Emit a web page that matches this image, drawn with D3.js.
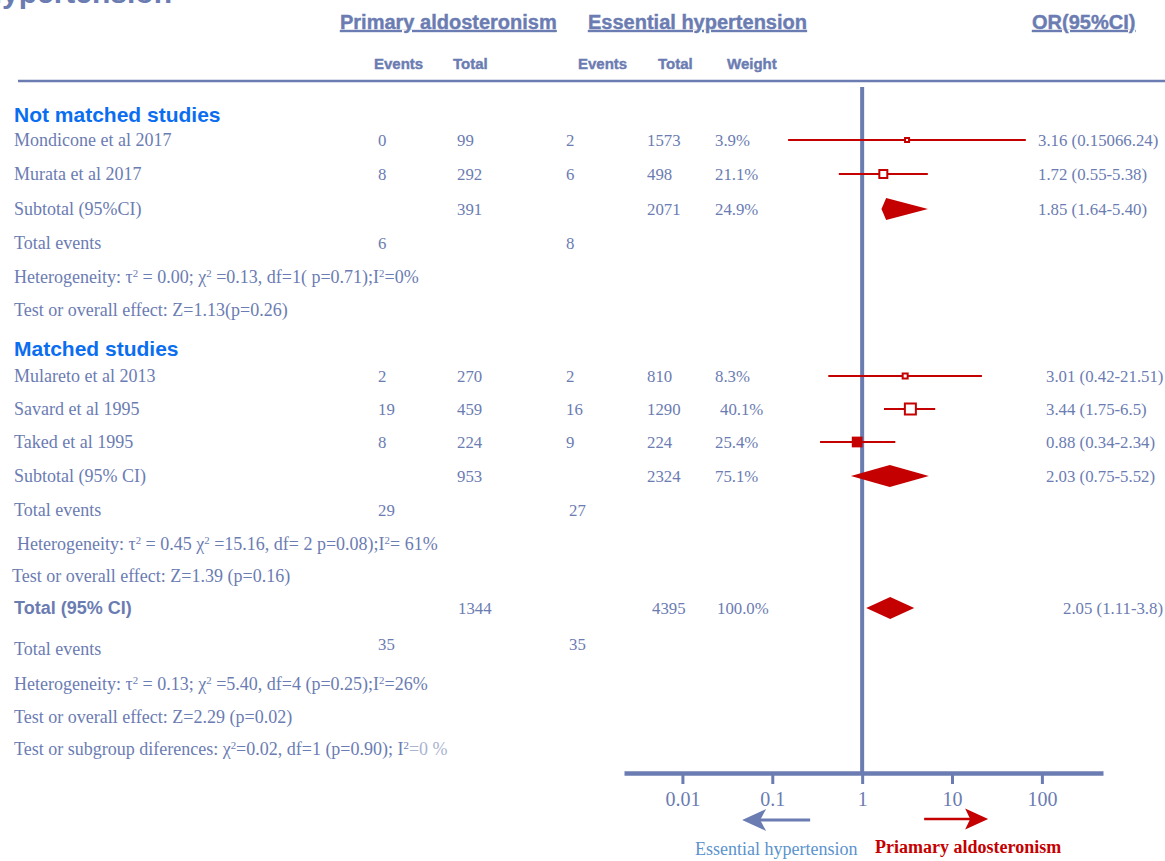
<!DOCTYPE html>
<html>
<head>
<meta charset="utf-8">
<script src="https://cdn.jsdelivr.net/npm/d3@7"></script>
<style>
  html, body { margin: 0; padding: 0; background: #fff; }
  svg { display: block; }
</style>
</head>
<body>
<svg id="chart" width="1165" height="861"></svg>
<script>
// ---- Study-level data ----
const studyNames  = ["Mondicone et al 2017", "Murata et al 2017", "Mulareto et al 2013", "Savard et al 1995", "Taked et al 1995"];
const studyGroup  = [0, 0, 1, 1, 1];
const paEvents    = [0, 8, 2, 19, 8];
const paTotals    = [99, 292, 270, 459, 224];
const ehEvents    = [2, 6, 2, 16, 9];
const ehTotals    = [1573, 498, 810, 1290, 224];
const weights     = [3.9, 21.1, 8.3, 40.1, 25.4];
const oddsRatios  = [3.16, 1.72, 3.01, 3.44, 0.88];
const ciLower     = [0.15, 0.55, 0.42, 1.75, 0.34];
const ciUpper     = [66.24, 5.38, 21.51, 6.5, 2.34];
const orLabels    = ["3.16 (0.15066.24)", "1.72 (0.55-5.38)", "3.01 (0.42-21.51)", "3.44 (1.75-6.5)", "0.88 (0.34-2.34)"];

// ---- Pooled estimates (subgroup 1, subgroup 2, overall) ----
const pooledNames   = ["Subtotal (95%CI)", "Subtotal (95% CI)", "Total (95% CI)"];
const pooledPaTotal = [391, 953, 1344];
const pooledEhTotal = [2071, 2324, 4395];
const pooledWeight  = [24.9, 75.1, 100.0];
const pooledOR      = [1.85, 2.03, 2.05];
const pooledLower   = [1.64, 0.75, 1.11];
const pooledUpper   = [5.40, 5.52, 3.8];
const pooledLabels  = ["1.85 (1.64-5.40)", "2.03 (0.75-5.52)", "2.05 (1.11-3.8)"];
const pooledPaEvents = [6, 29, 35];
const pooledEhEvents = [8, 27, 35];

// ---- Statistics text ("^" marks a superscript 2) ----
const heterogeneityText = [
  "Heterogeneity: τ^ = 0.00; χ^ =0.13, df=1( p=0.71);I^=0%",
  "Heterogeneity: τ^ = 0.45 χ^ =15.16, df= 2 p=0.08);I^= 61%",
  "Heterogeneity: τ^ = 0.13; χ^ =5.40, df=4 (p=0.25);I^=26%"
];
const overallEffectText = [
  "Test or overall effect: Z=1.13(p=0.26)",
  "Test or overall effect: Z=1.39 (p=0.16)",
  "Test or overall effect: Z=2.29 (p=0.02)"
];
const subgroupText = "Test or subgroup diferences: χ^=0.02, df=1 (p=0.90); I^";
const subgroupTail = "=0 %";
const groupTitles = ["Not matched studies", "Matched studies"];

// ---- Axis ticks ----
const tickValues = [0.01, 0.1, 1, 10, 100];
const tickLabels = ["0.01", "0.1", "1", "10", "100"];

// ---- Styling ----
const SLATE = "#6b7cb2";
const RED = "#c40000";
const HEAD_BLUE = "#0b6ef0";
const SERIF = "'Liberation Serif', 'Times New Roman', serif";
const SANS = "'Liberation Sans', Arial, sans-serif";
const NUM_SIZE = 16.8;
const LABEL_SIZE = 18;

const svg = d3.select("#chart");

// Row layout (vertical centre of each table line)
const rowY = {
  head0: 115, study0: 140, study1: 174, sub0: 209, ev0: 243, het0: 277, test0: 310,
  head1: 349, study2: 376, study3: 409, study4: 442, sub1: 476, ev1: 510, het1: 544, test1: 576,
  total: 608, ev2: 649, het2: 684, test2: 717, subgroup: 749
};
const studyRowKey = i => "study" + i;
const pooledRowKey = ["sub0", "sub1", "total"];

// Column anchors
const col = { name: 14, paEv: 378, paTot: 457, ehEv: 566, ehTot: 647, weight: 715 };
const orLabelX = [1038, 1046, 1063];

// Log scale for odds ratios
const x = d3.scaleLog().domain([Math.pow(10, -2.65), Math.pow(10, 2.68)]).range([624, 1103]);
const boxSize = d3.scaleSqrt().domain([0, 40.1]).range([0, 11]);

// Title line, clipped at the top edge
svg.append("text")
  .attr("x", 172).attr("y", 3)
  .attr("text-anchor", "end")
  .attr("font-family", SANS).attr("font-weight", "bold").attr("font-size", 30)
  .attr("fill", SLATE)
  .text("Hypertension");

// Column headers
const header = svg.append("g").attr("font-family", SANS).attr("font-weight", "bold")
  .attr("fill", SLATE).attr("stroke", SLATE).attr("stroke-width", 0.4);
[["Primary aldosteronism", 340], ["Essential hypertension", 588], ["OR(95%CI)", 1032]].forEach(([t, xx]) => {
  header.append("text").attr("x", xx).attr("y", 29).attr("font-size", 20)
    .attr("textLength", null)
    .attr("text-decoration", "underline").text(t);
});
[["Events", 374], ["Total", 453], ["Events", 578], ["Total", 658], ["Weight", 727]].forEach(([t, xx]) => {
  header.append("text").attr("x", xx).attr("y", 69).attr("font-size", 15).text(t);
});
svg.append("line").attr("x1", 18).attr("x2", 1165).attr("y1", 81).attr("y2", 81)
  .attr("stroke", SLATE).attr("stroke-width", 2.5);

// Serif text with a superscript 2 wherever "^" appears
function richText(g, str, xx, yy, size, fill) {
  const t = g.append("text").attr("x", xx).attr("y", yy).attr("dy", "0.35em")
    .attr("font-family", SERIF).attr("font-size", size).attr("fill", fill);
  const parts = str.split("^");
  parts.forEach((p, i) => {
    const span = t.append("tspan").text(p);
    if (i > 0) span.attr("dy", 6);
    if (i < parts.length - 1) {
      t.append("tspan").attr("dy", -6).attr("font-size", size * 0.6).text("2");
    }
  });
  return t;
}
function plain(g, str, xx, yy, size, opts = {}) {
  return g.append("text").attr("x", xx).attr("y", yy).attr("dy", "0.35em")
    .attr("font-family", opts.family || SERIF).attr("font-size", size)
    .attr("font-weight", opts.weight || "normal")
    .attr("text-anchor", opts.anchor || "start")
    .attr("fill", opts.fill || SLATE).text(str);
}

const table = svg.append("g");

// Group headings
groupTitles.forEach((t, g) => {
  plain(table, t, col.name, rowY["head" + g], 21, { family: SANS, weight: "bold", fill: HEAD_BLUE });
});

// Study rows
studyNames.forEach((name, i) => {
  const y = rowY[studyRowKey(i)];
  plain(table, name, col.name, y, LABEL_SIZE);
  plain(table, paEvents[i], col.paEv, y, NUM_SIZE);
  plain(table, paTotals[i], col.paTot, y, NUM_SIZE);
  plain(table, ehEvents[i], col.ehEv, y, NUM_SIZE);
  plain(table, ehTotals[i], col.ehTot, y, NUM_SIZE);
  plain(table, weights[i].toFixed(1) + "%", col.weight + (i === 3 ? 5 : 0), y, NUM_SIZE);
  plain(table, orLabels[i], orLabelX[studyGroup[i]], y, NUM_SIZE);
});

// Pooled rows
pooledNames.forEach((name, k) => {
  const y = rowY[pooledRowKey[k]];
  if (k < 2) plain(table, name, col.name, y, LABEL_SIZE);
  else plain(table, name, col.name, y, 18, { family: SANS, weight: "bold" });
  plain(table, pooledPaTotal[k], k < 2 ? col.paTot : col.paTot + 1, y, NUM_SIZE);
  plain(table, pooledEhTotal[k], k < 2 ? col.ehTot : col.ehTot + 5, y, NUM_SIZE);
  plain(table, pooledWeight[k].toFixed(1) + "%", k < 2 ? col.weight : col.weight + 2, y, NUM_SIZE);
  plain(table, pooledLabels[k], orLabelX[k], y, NUM_SIZE);
});

// Total events, heterogeneity and overall-effect lines
[0, 1, 2].forEach(k => {
  const y = rowY["ev" + k];
  const evY = k === 2 ? y - 5 : y;
  plain(table, "Total events", col.name, y, LABEL_SIZE);
  plain(table, pooledPaEvents[k], col.paEv, evY, NUM_SIZE);
  plain(table, pooledEhEvents[k], col.ehEv + (k === 0 ? 0 : 3), evY, NUM_SIZE);
  richText(table, heterogeneityText[k], k === 1 ? 17 : col.name, rowY["het" + k], LABEL_SIZE, SLATE);
  plain(table, overallEffectText[k], k === 1 ? 12 : col.name, rowY["test" + k], LABEL_SIZE);
});
const sg = richText(table, subgroupText, col.name, rowY.subgroup, LABEL_SIZE, SLATE);
sg.append("tspan").attr("dy", 6).attr("fill", "#aab3d0").text(subgroupTail);

// ---- Forest plot ----
const plot = svg.append("g");

// Line of no effect
plot.append("line")
  .attr("x1", x(1)).attr("x2", x(1)).attr("y1", 87).attr("y2", 773)
  .attr("stroke", SLATE).attr("stroke-width", 4);

// Confidence intervals and weighted boxes
studyNames.forEach((name, i) => {
  const y = rowY[studyRowKey(i)];
  plot.append("line")
    .attr("x1", x(ciLower[i])).attr("x2", x(ciUpper[i]))
    .attr("y1", y).attr("y2", y)
    .attr("stroke", RED).attr("stroke-width", 2);
  const s = Math.max(boxSize(weights[i]), 4);
  const solid = name === "Taked et al 1995";
  plot.append("rect")
    .attr("x", x(oddsRatios[i]) - s / 2).attr("y", y - s / 2)
    .attr("width", s).attr("height", s)
    .attr("fill", solid ? RED : "#fff")
    .attr("stroke", RED).attr("stroke-width", 2);
});

// Pooled diamonds
pooledOR.forEach((or, k) => {
  const y = rowY[pooledRowKey[k]];
  const h = 11;
  const pts = [
    [x(pooledLower[k]), y],
    [x(or), y - h],
    [x(pooledUpper[k]), y],
    [x(or), y + h]
  ];
  plot.append("path").attr("d", d3.line()(pts) + "Z").attr("fill", RED);
});

// Axis
const axisY = 773;
const axis = d3.axisBottom(x).tickValues(tickValues)
  .tickFormat((d, i) => tickLabels[i]).tickSizeOuter(0).tickSizeInner(11).tickPadding(8);
const axG = svg.append("g").attr("transform", `translate(0,${axisY})`).call(axis);
axG.select(".domain").attr("stroke", SLATE).attr("stroke-width", 4.5);
axG.selectAll(".tick line").attr("stroke", SLATE).attr("stroke-width", 3);
axG.selectAll(".tick text").attr("fill", SLATE)
  .attr("font-family", SERIF).attr("font-size", 20);

// Direction arrows and labels
const arrowY = 820;
const arrows = svg.append("g");
arrows.append("line").attr("x1", x(1) - 52).attr("x2", x(1) - 110).attr("y1", arrowY).attr("y2", arrowY)
  .attr("stroke", SLATE).attr("stroke-width", 3);
arrows.append("path")
  .attr("d", d3.line()([[x(1) - 120, arrowY], [x(1) - 96, arrowY - 11], [x(1) - 102, arrowY], [x(1) - 96, arrowY + 11]]) + "Z")
  .attr("fill", SLATE);
arrows.append("line").attr("x1", x(1) + 62).attr("x2", x(1) + 112).attr("y1", arrowY - 1).attr("y2", arrowY - 1)
  .attr("stroke", RED).attr("stroke-width", 2.5);
arrows.append("path")
  .attr("d", d3.line()([[x(1) + 126, arrowY - 1], [x(1) + 103, arrowY - 11.5], [x(1) + 108, arrowY - 1], [x(1) + 103, arrowY + 9.5]]) + "Z")
  .attr("fill", RED);

plain(svg, "Essential hypertension", 695, 849, 18, { fill: "#5b93cc" });
plain(svg, "Priamary aldosteronism", 875, 847, 18, { weight: "bold", fill: RED });
</script>
</body>
</html>
